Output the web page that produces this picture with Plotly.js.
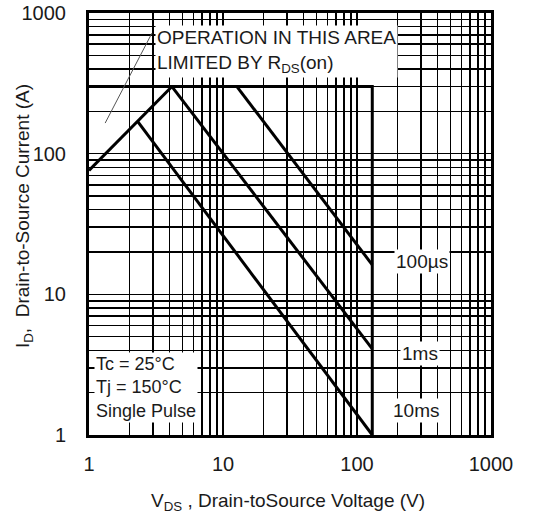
<!DOCTYPE html>
<html>
<head>
<meta charset="utf-8">
<script src="https://cdn.plot.ly/plotly-3.0.1.min.js"></script>
<style>html,body{margin:0;padding:0;background:#fff;}#chart{width:548px;height:518px;}</style>
</head>
<body>
<div id="chart"></div>
<script>
// Safe operating area boundary (V, A)
const limitX = [1, 130, 130];
const limitY = [300, 300, 1];
// R_DS(on) limited rising line
const rdsX = [1, 4.16];
const rdsY = [76, 300];
// pulse lines
const p100usX = [12.7, 130];
const p100usY = [300, 16.2];
const p1msX = [4.16, 130];
const p1msY = [300, 4.1];
const p10msX = [2.32, 130];
const p10msY = [168, 1];
// leader line for the R_DS(on) note
const leaderX = [2.95, 1.32];
const leaderY = [720, 165];

const decades = [1, 10, 100];
const gridVals = [];
const gridText = [];
decades.forEach(d => { for (let k = 1; k <= 9; k++) { gridVals.push(k * d); gridText.push(k === 1 ? String(d) : ''); } });
gridVals.push(1000); gridText.push('1000');

const fontFam = '"Liberation Sans", Arial, sans-serif';
const txtCol = '#1a1a1a';
const thick = {color: '#000', width: 3};

const traces = [
  {x: limitX, y: limitY, mode: 'lines', line: thick, hoverinfo: 'skip'},
  {x: rdsX, y: rdsY, mode: 'lines', line: thick, hoverinfo: 'skip'},
  {x: p100usX, y: p100usY, mode: 'lines', line: thick, hoverinfo: 'skip'},
  {x: p1msX, y: p1msY, mode: 'lines', line: thick, hoverinfo: 'skip'},
  {x: p10msX, y: p10msY, mode: 'lines', line: thick, hoverinfo: 'skip'},
  {x: leaderX, y: leaderY, mode: 'lines', line: {color: '#555', width: 1}, hoverinfo: 'skip'}
];

const axisCommon = {
  type: 'log',
  tickmode: 'array',
  tickvals: gridVals,
  ticktext: gridText,
  tickangle: 0,
  ticks: 'outside',
  ticklen: 9,
  tickcolor: 'rgba(0,0,0,0)',
  showgrid: true,
  gridcolor: '#000',
  gridwidth: 1.5,
  showline: true,
  linecolor: '#000',
  linewidth: 3,
  mirror: true,
  zeroline: false,
  automargin: false,
  tickfont: {family: fontFam, size: 20, color: txtCol}
};

const annFont = {family: fontFam, size: 19, color: txtCol};

const layout = {
  width: 548, height: 518,
  margin: {l: 89, r: 57, t: 13, b: 83},
  paper_bgcolor: '#fff', plot_bgcolor: '#fff',
  showlegend: false,
  font: {family: fontFam, color: txtCol},
  xaxis: Object.assign({}, axisCommon, {
    range: [0, 3]
  }),
  yaxis: Object.assign({}, axisCommon, {
    range: [0, 3],
    ticklen: 16
  }),
  annotations: [
    {xref: 'paper', yref: 'paper', x: 0.495, y: -0.159, xanchor: 'center', yanchor: 'middle',
     text: 'V<sub>DS</sub> , Drain-toSource Voltage (V)', showarrow: false,
     font: {family: fontFam, size: 19, color: txtCol}},
    {xref: 'paper', yref: 'paper', x: -0.163, y: 0.52, xanchor: 'center', yanchor: 'middle', textangle: -90,
     text: 'I<sub>D</sub>,  Drain-to-Source Current (A)', showarrow: false,
     font: {family: fontFam, size: 19, color: txtCol}},
    {xref: 'paper', yref: 'paper', x: 0.165, y: 0.972, xanchor: 'left', yanchor: 'top', align: 'left',
     text: 'OPERATION IN THIS AREA<br>LIMITED BY R<sub>DS</sub>(on)', showarrow: false, bgcolor: '#fff', borderpad: 1,
     font: annFont},
    {xref: 'paper', yref: 'paper', x: 0.013, y: 0.196, xanchor: 'left', yanchor: 'top', align: 'left',
     text: 'Tc = 25°C<br>Tj = 150°C<br>Single Pulse', showarrow: false, bgcolor: '#fff', borderpad: 1,
     font: {family: fontFam, size: 18, color: txtCol}},
    {xref: 'paper', yref: 'paper', x: 0.828, y: 0.410, xanchor: 'center', yanchor: 'middle',
     text: '100µs', showarrow: false, bgcolor: '#fff', borderpad: 1, font: annFont},
    {xref: 'paper', yref: 'paper', x: 0.823, y: 0.194, xanchor: 'center', yanchor: 'middle',
     text: '1ms', showarrow: false, bgcolor: '#fff', borderpad: 1, font: annFont},
    {xref: 'paper', yref: 'paper', x: 0.813, y: 0.057, xanchor: 'center', yanchor: 'middle',
     text: '10ms', showarrow: false, bgcolor: '#fff', borderpad: 1, font: annFont}
  ]
};

Plotly.newPlot('chart', traces, layout, {displayModeBar: false, staticPlot: true});
</script>
</body>
</html>
